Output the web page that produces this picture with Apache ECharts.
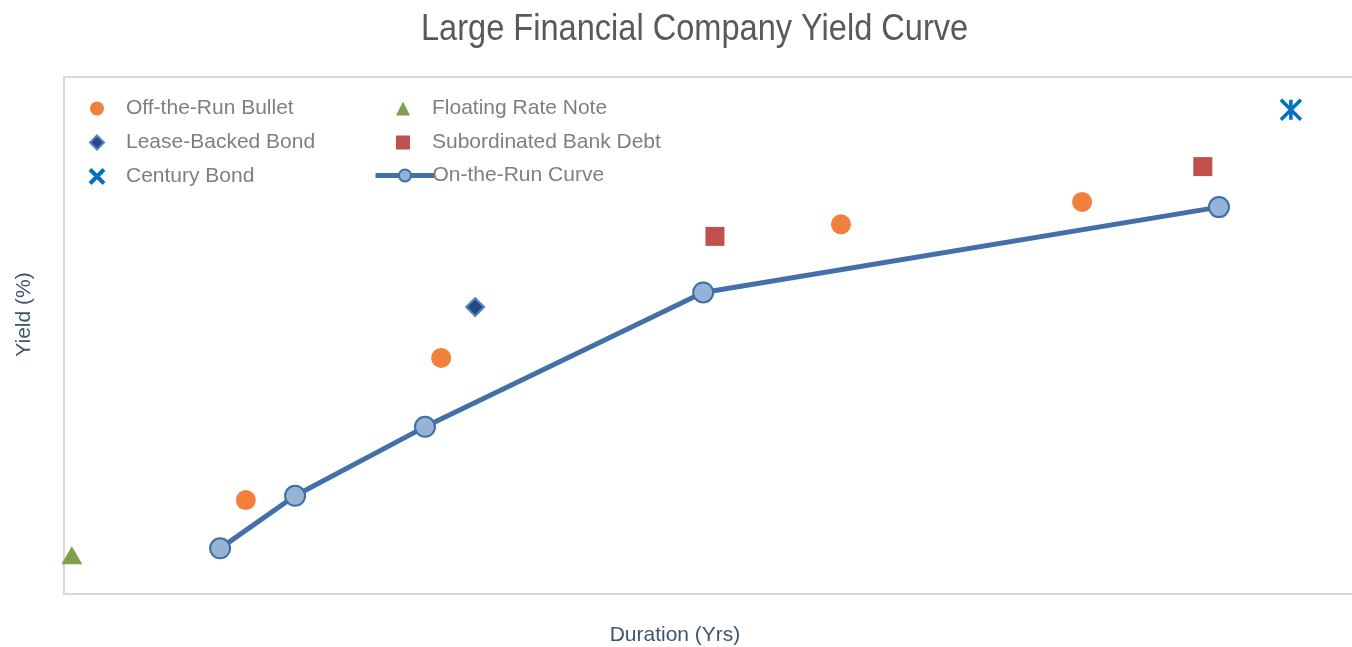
<!DOCTYPE html>
<html>
<head>
<meta charset="utf-8">
<script src="https://cdn.jsdelivr.net/npm/echarts@6/dist/echarts.min.js"></script>
<style>html,body{margin:0;padding:0;background:#fff;}#c{width:1352px;height:647px;}</style>
</head>
<body>
<div id="c"></div>
<script>
// Duration (yrs) / Yield (%) pairs
const onTheRunX = [3.58, 5.30, 8.28, 14.66, 26.49];
const onTheRunY = [0.53, 1.14, 1.94, 3.50, 4.49];
const offTheRunX = [4.17, 8.65, 17.82, 23.35];
const offTheRunY = [1.09, 2.74, 4.29, 4.55];
const floatingX = [0.18];
const floatingY = [0.45];
const leaseX = [9.43];
const leaseY = [3.33];
const subDebtX = [14.93, 26.12];
const subDebtY = [4.15, 4.96];
const centuryX = [28.14];
const centuryY = [5.62];

const zip = (xs, ys) => xs.map((x, i) => [x, ys[i]]);
const starPath = 'path://M0,0 L10,10 M10,0 L0,10 M5,0 L5,10';
const xPath = 'path://M0,0 L10,10 M10,0 L0,10';

const chart = echarts.init(document.getElementById('c'));
const legendText = {color: '#7f7f7f', fontSize: 21, fontFamily: 'Liberation Sans, Arial, sans-serif', padding: [0, 0, 0, 17]};
const axisNameStyle = {color: '#3b5770', fontSize: 21, fontFamily: 'Liberation Sans, Arial, sans-serif'};
chart.setOption({
  animation: false,
  graphic: [{
    type: 'text', left: 421, top: 11, scaleX: 0.88,
    style: {text: 'Large Financial Company Yield Curve', font: '37px "Liberation Sans", Arial, sans-serif', fill: '#595959'}
  }],
  grid: {left: 64, top: 77, right: -20, bottom: 53, outerBoundsMode: 'none', containLabel: false,
    show: true, borderColor: '#d9d9d9', borderWidth: 2, backgroundColor: '#fff'},
  legend: [
    {orient: 'vertical', left: 83, top: 93, itemWidth: 14, itemHeight: 14, itemGap: 13,
      textStyle: legendText,
      data: ['Off-the-Run Bullet', 'Lease-Backed Bond',
        {name: 'Century Bond', icon: xPath, itemStyle: {color: 'transparent', borderColor: '#0070c0', borderWidth: 4}}]},
    {orient: 'vertical', left: 391, top: 93, itemWidth: 14, itemHeight: 14, itemGap: 13,
      textStyle: legendText, data: ['Floating Rate Note', 'Subordinated Bank Debt']},
    {orient: 'vertical', left: 368, top: 160, itemWidth: 59, itemHeight: 15,
      lineStyle: {width: 5},
      textStyle: Object.assign({}, legendText, {padding: [0, 0, 0, -7]}), data: ['On-the-Run Curve']}
  ],
  xAxis: {
    type: 'value', min: 0, max: 30,
    name: 'Duration (Yrs)', nameLocation: 'middle', nameGap: 31,
    nameTextStyle: Object.assign({}, axisNameStyle, {padding: [0, 86, 0, 0]}),
    axisLine: {show: false}, axisTick: {show: false}, axisLabel: {show: false}, splitLine: {show: false}
  },
  yAxis: {
    type: 'value', min: 0, max: 6,
    name: 'Yield (%)', nameLocation: 'middle', nameGap: 29,
    nameTextStyle: Object.assign({}, axisNameStyle, {padding: [0, 0, 0, 42]}),
    axisLine: {show: false}, axisTick: {show: false}, axisLabel: {show: false}, splitLine: {show: false}
  },
  series: [
    {name: 'On-the-Run Curve', type: 'line', data: zip(onTheRunX, onTheRunY),
      symbol: 'circle', symbolSize: 20, showAllSymbol: true,
      lineStyle: {color: '#4470a8', width: 5},
      itemStyle: {color: '#95b3d7', borderColor: '#3f6ea6', borderWidth: 2}, z: 2},
    {name: 'Off-the-Run Bullet', type: 'scatter', data: zip(offTheRunX, offTheRunY),
      symbol: 'circle', symbolSize: 20, itemStyle: {color: '#f0803c', opacity: 1}},
    {name: 'Floating Rate Note', type: 'scatter', data: zip(floatingX, floatingY),
      symbol: 'triangle', symbolSize: [21, 18], itemStyle: {color: '#80a04a', opacity: 1}},
    {name: 'Lease-Backed Bond', type: 'scatter', data: zip(leaseX, leaseY),
      symbol: 'diamond', symbolSize: 18, itemStyle: {color: '#214a85', borderColor: '#5a84c0', borderWidth: 2, opacity: 1}},
    {name: 'Subordinated Bank Debt', type: 'scatter', data: zip(subDebtX, subDebtY),
      symbol: 'rect', symbolSize: 19, itemStyle: {color: '#c0504d', opacity: 1}},
    {name: 'Century Bond', type: 'scatter', data: zip(centuryX, centuryY),
      symbol: starPath, symbolSize: 20,
      itemStyle: {color: 'transparent', borderColor: '#0070c0', borderWidth: 3.5, opacity: 1}}
  ]
});
</script>
</body>
</html>
